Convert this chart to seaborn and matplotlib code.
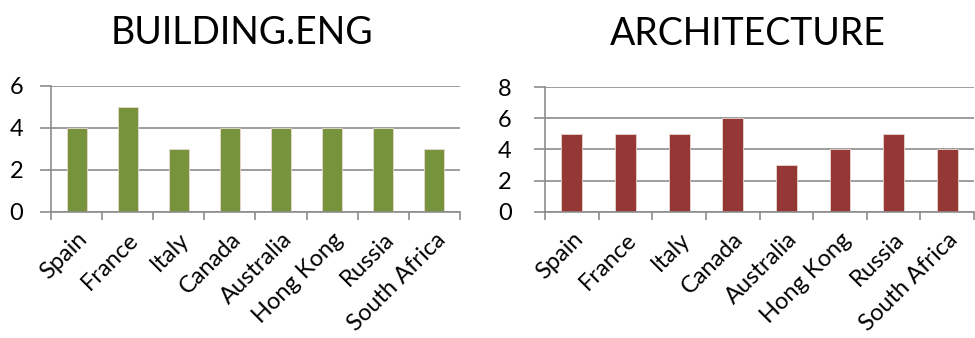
import matplotlib
matplotlib.use("Agg")
import matplotlib.pyplot as plt
import seaborn as sns
import pandas as pd
import numpy as np

countries = ["Spain", "France", "Italy", "Canada", "Australia",
             "Hong Kong", "Russia", "South Africa"]
building_eng = [4, 5, 3, 4, 4, 4, 4, 3]
architecture = [5, 5, 5, 6, 3, 4, 5, 4]

titles = ["BUILDING.ENG", "ARCHITECTURE"]
colors = ["#77933C", "#953735"]
y_ticks = [[0, 2, 4, 6], [0, 2, 4, 6, 8]]

sns.set_theme(style="white")
plt.rcParams["font.family"] = ["Lato", "DejaVu Sans"]

fig = plt.figure(figsize=(9.75, 3.38), dpi=100)
axes = [fig.add_axes([0.0523, 0.3728, 0.4195, 0.3728]),
        fig.add_axes([0.559, 0.3728, 0.44, 0.3698])]
title_x = [0.467, 0.472]
y_pads = [12, 16]

grid_color = "#8C8C8C"
for ax, vals, title, col, yt, tx, yp in zip(
        axes, [building_eng, architecture], titles, colors, y_ticks,
        title_x, y_pads):
    df = pd.DataFrame({"country": countries, "value": vals})
    sns.barplot(data=df, x="country", y="value", color=col, width=0.39,
                edgecolor="#E8D8D0", linewidth=0.6, saturation=1, ax=ax)
    ax.set_xlim(-0.5, len(countries) - 0.5)
    ax.set_ylim(yt[0], yt[-1])
    ax.set_yticks(yt)
    ax.set_xlabel("")
    ax.set_ylabel("")
    ax.yaxis.grid(True, color=grid_color, linewidth=1.2)
    ax.set_axisbelow(True)
    for s in ["top", "right"]:
        ax.spines[s].set_visible(False)
    for s in ["left", "bottom"]:
        ax.spines[s].set_color(grid_color)
        ax.spines[s].set_linewidth(1.2)
    # category labels at bar centres, tick marks at category boundaries
    ax.set_xticks(np.arange(len(countries)))
    ax.set_xticklabels(countries, rotation=45, ha="right",
                       rotation_mode="anchor", fontsize=17)
    ax.set_xticks(np.arange(len(countries) + 1) - 0.5, minor=True)
    ax.tick_params(axis="x", which="major", length=0, pad=12)
    ax.tick_params(axis="x", which="minor", length=6, width=1.2,
                   color=grid_color, direction="out", bottom=True)
    ax.tick_params(axis="y", length=8, width=1.2, color=grid_color,
                   direction="out", left=True, labelsize=17, pad=yp)
    for lab in ax.get_yticklabels():
        lab.set_color("black")
    for lab in ax.get_xticklabels():
        lab.set_color("black")
    ax.set_title(title, fontsize=27, pad=30, color="black", x=tx)

fig.savefig("out.png", dpi=100, facecolor="white")
